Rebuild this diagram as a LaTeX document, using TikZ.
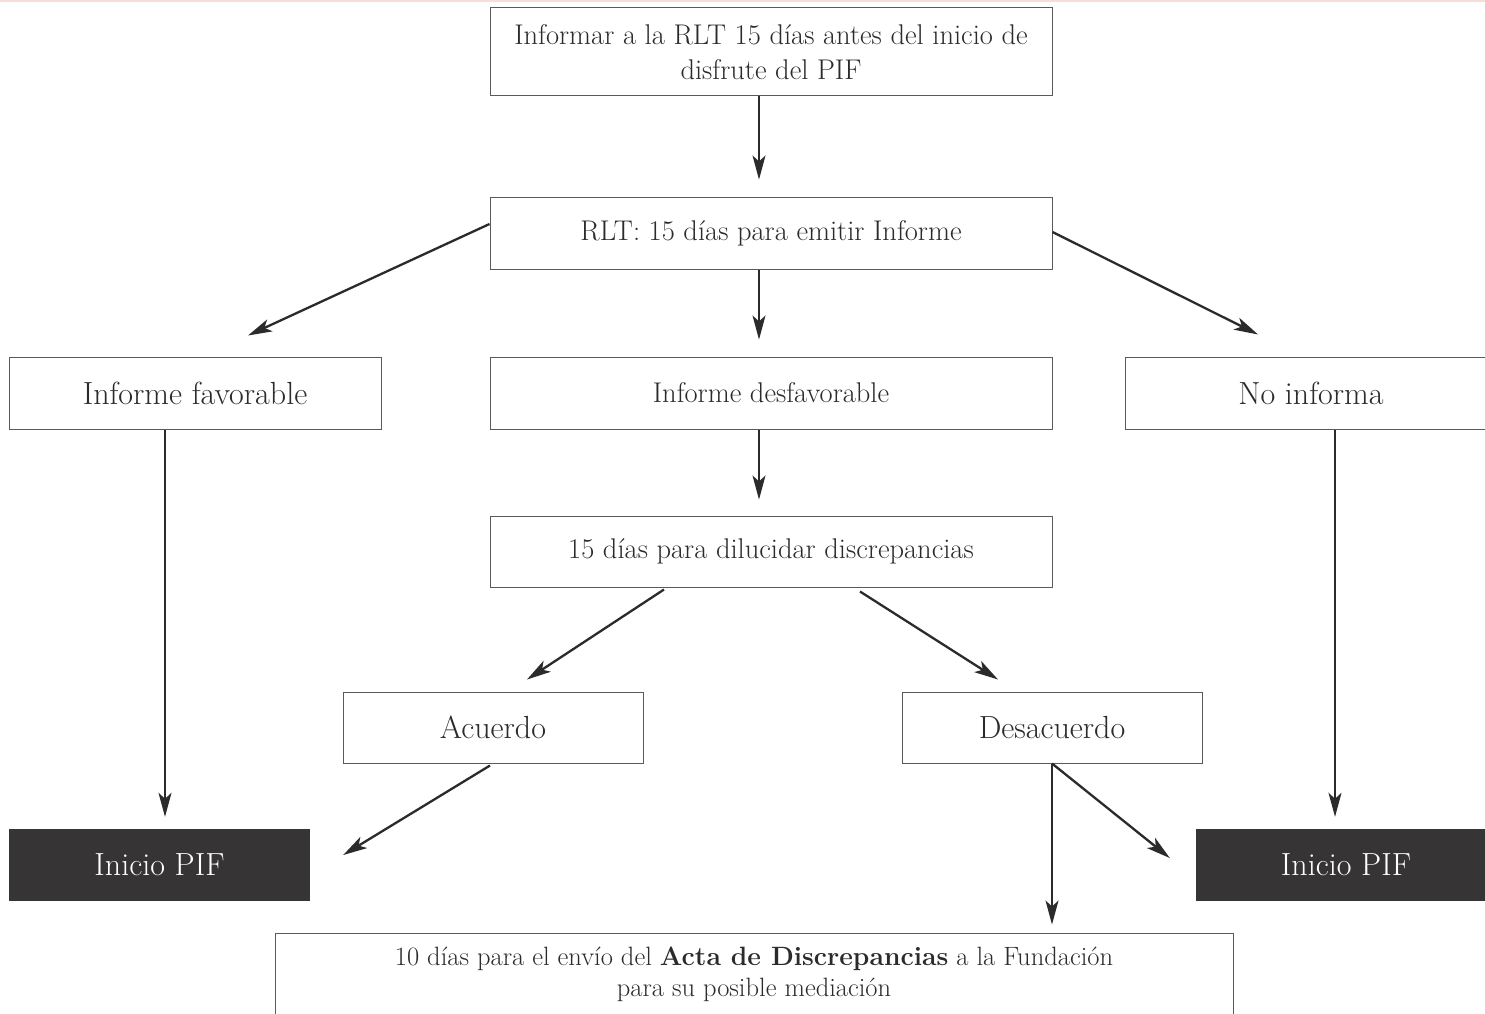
\documentclass[tikz,border=0pt]{standalone}
\usetikzlibrary{arrows.meta,calc}
\definecolor{ink}{HTML}{2C2A2B}
\definecolor{frame}{HTML}{5A5A5A}
\definecolor{darkbox}{HTML}{363435}
\definecolor{topline}{HTML}{F6DED6}
\begin{document}
\begin{tikzpicture}[x=1pt,y=-1pt,
  box/.style={draw=frame, line width=1pt, text=ink, inner sep=0pt, align=center,
    font=\fontsize{28.5}{35}\selectfont},
  bigbox/.style={box, font=\fontsize{32}{35}\selectfont},
  pif/.style={fill=darkbox, draw=none, text=white, inner sep=0pt,
    font=\fontsize{32}{35}\selectfont},
  arr/.style={draw=ink, line width=1.3pt, -{Stealth[length=24pt,width=13pt,inset=6pt]}},
  darr/.style={arr, line width=2.3pt}]
\useasboundingbox (0,0) rectangle (1485,1014);
\clip (0,0) rectangle (1485,1014);
\fill[white] (0,0) rectangle (1485,1014);
\fill[topline] (0,0) rectangle (1485,2);

\node[box, minimum width=562, minimum height=88] (top) at (771,52)
  {Informar a la RLT 15 días antes del inicio de\\disfrute del PIF};
\node[box, minimum width=562, minimum height=72] (rlt) at (771,233)
  {RLT: 15 días para emitir Informe};
\node[bigbox, minimum width=372, minimum height=72] (fav) at (195,393)
  {Informe favorable};
\node[box, minimum width=562, minimum height=72] (des) at (771,393)
  {Informe desfavorable};
\node[bigbox, minimum width=372, minimum height=72] (noinf) at (1311,393)
  {No informa};
\node[box, minimum width=562, minimum height=71] (disc) at (771,551.5)
  {15 días para dilucidar discrepancias};
\node[bigbox, minimum width=300, minimum height=71] (acu) at (493,727.5)
  {Acuerdo};
\node[bigbox, minimum width=300, minimum height=71] (desac) at (1052,727.5)
  {Desacuerdo};
\node[pif, minimum width=301, minimum height=72] (pif1) at (159.5,865)
  {Inicio PIF};
\node[pif, minimum width=300, minimum height=72] (pif2) at (1346,865)
  {Inicio PIF};
\node[box, font=\fontsize{26.5}{31}\selectfont, minimum width=958, minimum height=83] (acta) at (754,974.5)
  {10 días para el envío del \textbf{Acta de Discrepancias} a la Fundación\\para su posible mediación};

\draw[arr] ([xshift=-12pt]top.south) -- ([xshift=-12pt,yshift=17pt]rlt.north);
\draw[arr] ([xshift=-12pt]rlt.south) -- ([xshift=-12pt,yshift=17pt]des.north);
\draw[darr] ([yshift=9pt]rlt.west) -- ([xshift=53pt,yshift=21pt]fav.north);
\draw[darr] ([yshift=1pt]rlt.east) -- ([xshift=-53pt,yshift=22pt]noinf.north);
\draw[arr, shorten >=12pt] ([xshift=-30pt]fav.south) -- ([xshift=-30pt]fav.south |- pif1.north);
\draw[arr, shorten >=12pt] ([xshift=24pt]noinf.south) -- ([xshift=24pt]noinf.south |- pif2.north);
\draw[arr, shorten >=16pt] ([xshift=-12pt]des.south) -- ([xshift=-12pt]disc.north);
\draw[darr] ([xshift=-107pt,yshift=-2pt]disc.south) -- ([xshift=34pt,yshift=12pt]acu.north);
\draw[darr] ([xshift=89pt,yshift=-4pt]disc.south) -- ([xshift=-54pt,yshift=12pt]desac.north);
\draw[darr] ([xshift=-3pt,yshift=-2pt]acu.south) -- ([xshift=33pt,yshift=10pt]pif1.east);
\draw[arr, shorten >=8pt] (desac.south) -- (desac.south |- acta.north);
\draw[darr] (desac.south) -- ([xshift=-26pt,yshift=7pt]pif2.west);
\end{tikzpicture}
\end{document}
